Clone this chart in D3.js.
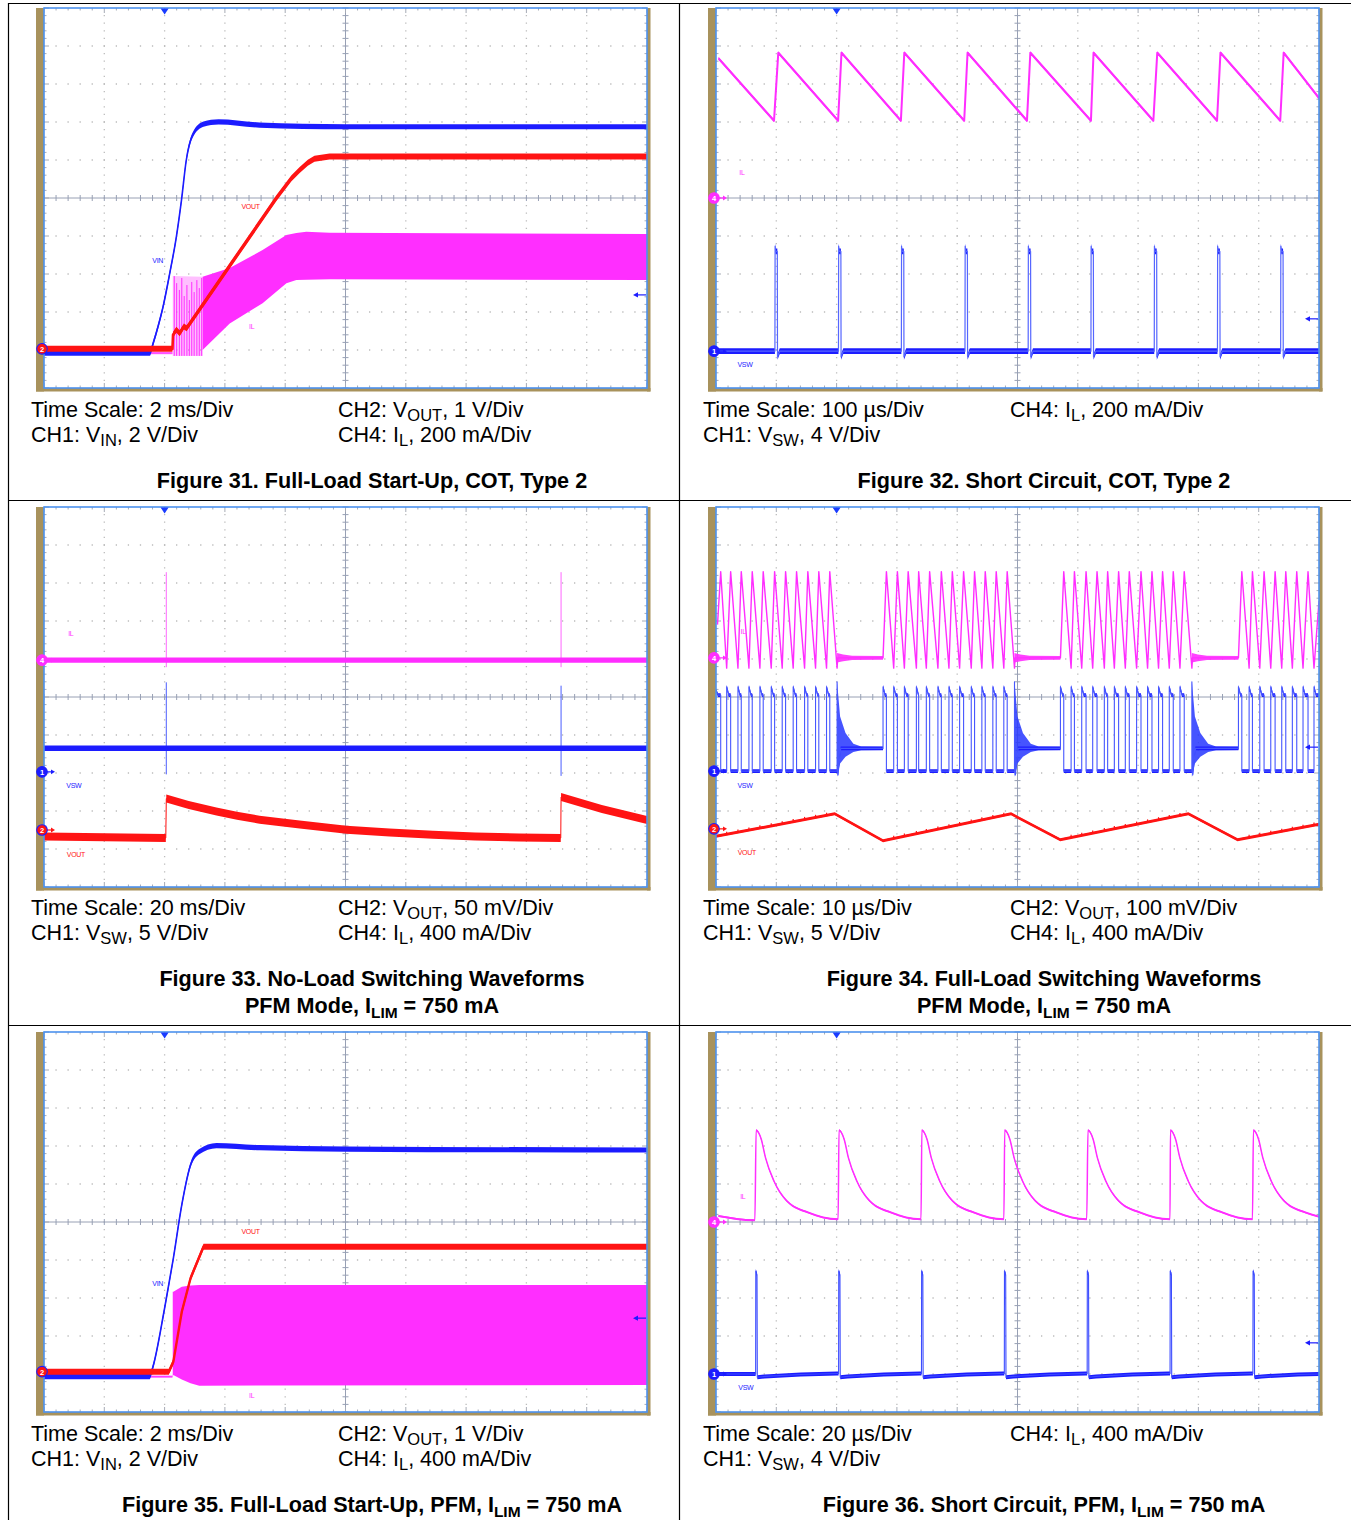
<!DOCTYPE html>
<html>
<head>
<meta charset="utf-8">
<script src="https://cdn.jsdelivr.net/npm/d3@7"></script>
<style>
  body { margin: 0; background: #fff; }
  svg text { font-family: "Liberation Sans", Arial, sans-serif; }
</style>
</head>
<body>
<svg id="chart" width="1351" height="1520"></svg>
<script>
// ---- Figure 31: full-load start-up, COT (t in ms) ----
const f31Vin = [[0,0],[3.51,0],[3.62,0.51],[3.78,1.38],[3.95,2.44],[4.17,4.19],[4.39,6.12],[4.56,8.05],[4.72,10.16],[4.93,11.47],[5.29,12.05],[5.79,12.17],[7.15,12.0],[10.03,11.91],[20,11.91]];
const f31Vout = [[0,0],[4.26,0],[4.28,0.37],[4.39,0.50],[4.50,0.41],[4.64,0.59],[4.73,0.54],[7.71,3.97],[8.20,4.48],[8.48,4.71],[8.75,4.90],[8.97,5.0],[9.47,5.06],[20,5.06]];
const f31IlIdle = [[3.51,0],[4.26,0]];
const f31IlBurst = [[4.27,-15,405],[5.26,-15,402]];
const f31IlSpikes = [[4.32,405],[4.40,368],[4.49,332],[4.57,395],[4.65,300],[4.74,358],[4.82,279],[4.90,374],[4.98,321],[5.07,384],[5.15,342],[5.23,395]];
const f31IlBand = [[5.26,16,402],[6.16,156,447],[7.25,262,542],[8.04,367,621],[8.37,384,632],[8.70,386,638],[9.47,388,633],[20,384,626]];

// ---- Figure 32: short circuit, COT (t in us) ----
const f32Il = [[4.1,735],[96.2,407],[103.3,765],[202.5,407],[208.1,765],[306.6,407],[312.3,765],[411.6,407],[417.2,765],[515.7,407],[521.3,765],[621.8,407],[626.1,765],[725.3,407],[731.8,765],[830.9,407],[836.6,765],[935.7,407],[941.4,765],[1000,526]];
const f32SwPulses = [97.7,203.1,307.4,412.9,517.7,621.8,726.8,831.6,936.4];
const f32SwTop = 11.05, f32SwHigh = 10.5, f32SwWidth = 4, f32SwUnder = -0.6;

// ---- Figure 33: no-load switching (t in ms) ----
const f33Il = [[0,0],[200,0]];
const f33IlSpikes = [[40.56,-74,926],[171.5,-74,926]];
const f33Vsw = [[0,3.11],[200,3.11]];
const f33SwSpikes = [[40.56,-0.33,11.78],[171.5,-0.53,11.34]];
const f33Vout = [[0,-8.6],[40.4,-10.5],[40.56,41.3],[48,32.9],[57.2,24.5],[64,18.6],[71.5,13.6],[84.8,7.2],[100.3,0.3],[114.6,-3.3],[129.0,-6.3],[143.0,-8.6],[157.6,-9.9],[171.4,-10.5],[171.5,43.4],[185,27.5],[200,13.2]];

// ---- Figure 34: full-load switching, PFM (t in us) ----
const f34BurstStarts = [0, 27.70, 57.12, 86.64];
const f34IlPeaks = [
  [0.78,2.43,4.19,6.01,7.83,9.72,11.54,13.36,15.23,17.05,18.87],
  [28.26,30.08,31.87,33.61,35.43,37.37,39.19,41.06,42.88,44.65,46.47,48.29],
  [57.67,59.44,61.37,63.19,64.95,66.77,68.54,70.48,72.30,74.06,75.83,77.65],
  [87.20,88.96,90.89,92.72,94.49,96.31,98.18]
];
const f34IlTroughs = [
  [1.77,3.64,5.46,7.28,9.16,10.98,12.80,14.69,16.51,18.33,20.08],
  [29.47,31.24,33.23,34.88,36.80,38.63,40.40,42.33,44.09,45.91,47.73,49.50],
  [58.89,60.65,62.47,64.40,66.06,67.88,69.75,71.57,73.39,75.17,76.94,78.92],
  [88.41,90.18,92.00,93.82,95.58,97.35,99.17]
];
const f34IlPeak = 908, f34IlValley = -108, f34IlIdle = 0;
const f34IlStart = [0.25, 350], f34IlEnd = [100, 600];
const f34IlFuzz = [[0,50],[1,35],[2.5,22],[8,20]];
const f34SwHigh = 10.0, f34SwHook = 11.1, f34SwLow = 0, f34SwIdle = 2.99, f34SwSpike = 11.75;
const f34SwRing = [[0,-0.75,11.75],[0.5,1.0,7.2],[1.4,1.9,5.0],[2.7,2.5,3.6],[4,2.75,3.25]];
const f34Vout = [[0,-19.7],[19.69,39.5],[27.70,-31.1],[48.94,39.5],[57.09,-28.4],[78.34,39.5],[86.49,-28.4],[100,12]];
const f34VoutRipple = 7;

// ---- Figure 35: full-load start-up, PFM (t in ms) ----
const f35Vin = [[0,0],[3.50,0],[3.60,0.44],[4.00,3.60],[4.29,6.23],[4.57,9.04],[4.86,11.14],[5.15,11.84],[5.72,12.16],[7.16,12.05],[10.03,11.98],[20,11.93]];
const f35Vout = [[0,0],[4.14,0],[4.29,0.26],[4.57,1.58],[4.86,2.46],[5.29,3.29],[20,3.29]];
const f35IlIdle = [[3.50,0],[4.26,0]];
const f35IlBand = [[4.27,0,895],[4.29,18,895],[4.57,-30,947],[4.86,-69,960],[5.15,-95,965],[20,-87,965]];

// ---- Figure 36: short circuit, PFM (t in us) ----
const f36IlLead = [[0.8,63],[12.9,18]];
const f36IlPeaks = [13.31,40.80,68.28,95.76,123.38,150.73,178.25];
const f36IlDecay = [[0,965],[1.7,870],[3.1,678],[5.9,432],[10.2,221],[17.3,99],[27.2,28]];
const f36SwPulses = [13.15,40.66,68.15,95.63,123.11,150.60,178.08];
const f36SwHigh = 10.84;
const f36SwRecover = [[0.55,-0.35],[3,-0.25],[15,-0.05],[27,0.05]];

// scope settings: ground offset (div from centre), units per div, whether the marker is visible
const f31Chans = [{ch:4,gnd:-4.08,perDiv:200,shown:false},{ch:1,gnd:-4.08,perDiv:2,shown:false},{ch:2,gnd:-3.97,perDiv:1,shown:true}];
const f32Chans = [{ch:4,gnd:0,perDiv:200,shown:true},{ch:1,gnd:-4.03,perDiv:4,shown:true}];
const f33Chans = [{ch:4,gnd:0.97,perDiv:400,shown:true},{ch:1,gnd:-1.97,perDiv:5,shown:true},{ch:2,gnd:-3.5,perDiv:50,shown:true}];
const f34Chans = [{ch:4,gnd:1.03,perDiv:400,shown:true},{ch:1,gnd:-1.95,perDiv:5,shown:true},{ch:2,gnd:-3.47,perDiv:100,shown:true}];
const f35Chans = [{ch:4,gnd:-4.07,perDiv:400,shown:false},{ch:1,gnd:-4.07,perDiv:2,shown:false},{ch:2,gnd:-3.94,perDiv:1,shown:true}];
const f36Chans = [{ch:4,gnd:0,perDiv:400,shown:true},{ch:1,gnd:-4.0,perDiv:4,shown:true}];
const timePerDiv = [2, 100, 20, 10, 2, 20];
const trigLevels = [-2.55, -3.18, null, -1.32, -2.53, -3.18];

// trace labels: [text, channel, t, value]
const f31Labels = [["VIN",1,3.77,4.89],["VOUT",2,6.85,3.74],["IL",4,6.89,142]];
const f32Labels = [["IL",4,43,132],["VSW",1,48,-1.37]];
const f33Labels = [["IL",4,8.9,284],["VSW",1,9.9,-1.84],["VOUT",2,10.6,-31.6]];
const f34Labels = [["IL",4,4.5,274],["VSW",1,4.8,-1.84],["VOUT",2,5.1,-63]];
const f35Labels = [["VIN",1,3.77,4.88],["VOUT",2,6.85,3.70],["IL",4,6.89,-203]];
const f36Labels = [["IL",4,8.9,271],["VSW",1,9.9,-1.37]];

// caption texts
const f31Notes = [["Time Scale: 2 ms/Div","CH1: V_{IN}, 2 V/Div"],["CH2: V_{OUT}, 1 V/Div","CH4: I_{L}, 200 mA/Div"]];
const f32Notes = [["Time Scale: 100 µs/Div","CH1: V_{SW}, 4 V/Div"],["CH4: I_{L}, 200 mA/Div"]];
const f33Notes = [["Time Scale: 20 ms/Div","CH1: V_{SW}, 5 V/Div"],["CH2: V_{OUT}, 50 mV/Div","CH4: I_{L}, 400 mA/Div"]];
const f34Notes = [["Time Scale: 10 µs/Div","CH1: V_{SW}, 5 V/Div"],["CH2: V_{OUT}, 100 mV/Div","CH4: I_{L}, 400 mA/Div"]];
const f35Notes = [["Time Scale: 2 ms/Div","CH1: V_{IN}, 2 V/Div"],["CH2: V_{OUT}, 1 V/Div","CH4: I_{L}, 400 mA/Div"]];
const f36Notes = [["Time Scale: 20 µs/Div","CH1: V_{SW}, 4 V/Div"],["CH4: I_{L}, 400 mA/Div"]];
const f31Title = ["Figure 31. Full-Load Start-Up, COT, Type 2"];
const f32Title = ["Figure 32. Short Circuit, COT, Type 2"];
const f33Title = ["Figure 33. No-Load Switching Waveforms","PFM Mode, I_{LIM} = 750 mA"];
const f34Title = ["Figure 34. Full-Load Switching Waveforms","PFM Mode, I_{LIM} = 750 mA"];
const f35Title = ["Figure 35. Full-Load Start-Up, PFM, I_{LIM} = 750 mA"];
const f36Title = ["Figure 36. Short Circuit, PFM, I_{LIM} = 750 mA"];

// ---------------- layout & style ----------------
const svg = d3.select("#chart");
const W = 603, H = 380;
const panels = [{x0:44,y0:8},{x0:716,y0:8},{x0:44,y0:507},{x0:716,y0:507},{x0:44,y0:1032},{x0:716,y0:1032}];
const BLUE = "#1c1cff", RED = "#ff1414", MAG = "#ff2eff";
const chColor = {1: BLUE, 2: RED, 4: MAG};
const OLIVE = "#a8925c", FRAME = "#4d92ee", DOT = "#bcbcbc", CROSS = "#98a0b4", TICK = "#a6abb6";
const defs = svg.append("defs");

// table rules
[3.5, 500.5, 1025.5].forEach(y => svg.append("line").attr("x1", 8).attr("x2", 1351).attr("y1", y).attr("y2", y).attr("stroke", "#000").attr("stroke-width", 1.2));
[8.5, 679.5].forEach(x => svg.append("line").attr("x1", x).attr("x2", x).attr("y1", 3).attr("y2", 1520).attr("stroke", "#000").attr("stroke-width", 1.2));

function makeScreen(idx, chans) {
  const { x0, y0 } = panels[idx];
  const tdiv = timePerDiv[idx];
  const g = svg.append("g");
  const xs = d3.scaleLinear().domain([0, 10 * tdiv]).range([x0, x0 + W]);
  const gy = d3.scaleLinear().domain([-5, 5]).range([y0 + H, y0]);
  const ys = {};
  chans.forEach(c => {
    ys[c.ch] = d3.scaleLinear().domain([(-5 - c.gnd) * c.perDiv, (5 - c.gnd) * c.perDiv]).range([y0 + H, y0]);
  });

  // bezel
  g.append("rect").attr("x", x0 - 8).attr("y", y0).attr("width", 8).attr("height", H + 3.5).attr("fill", OLIVE);
  g.append("rect").attr("x", x0 - 8).attr("y", y0 + H).attr("width", W + 11.5).attr("height", 3.5).attr("fill", OLIVE);
  g.append("rect").attr("x", x0 + W).attr("y", y0).attr("width", 3.5).attr("height", H + 3.5).attr("fill", OLIVE);
  g.append("rect").attr("x", x0).attr("y", y0).attr("width", W).attr("height", H).attr("fill", "#fff");

  // dotted grid
  const divs = d3.range(1, 10).filter(i => i !== 5);
  g.selectAll(null).data(divs).join("line")
    .attr("x1", i => xs(i * tdiv)).attr("x2", i => xs(i * tdiv))
    .attr("y1", y0).attr("y2", y0 + H)
    .attr("stroke", DOT).attr("stroke-width", 1.3)
    .attr("stroke-dasharray", `1.3 ${H / 50 - 1.3}`).attr("stroke-dashoffset", 0.65);
  g.selectAll(null).data(divs).join("line")
    .attr("x1", x0).attr("x2", x0 + W)
    .attr("y1", i => gy(i - 5)).attr("y2", i => gy(i - 5))
    .attr("stroke", DOT).attr("stroke-width", 1.3)
    .attr("stroke-dasharray", `1.3 ${W / 50 - 1.3}`).attr("stroke-dashoffset", 0.65);

  // centre cross with minor ticks
  g.append("line").attr("x1", xs(5 * tdiv)).attr("x2", xs(5 * tdiv)).attr("y1", y0).attr("y2", y0 + H).attr("stroke", CROSS).attr("stroke-width", 1);
  g.append("line").attr("x1", x0).attr("x2", x0 + W).attr("y1", gy(0)).attr("y2", gy(0)).attr("stroke", CROSS).attr("stroke-width", 1);
  const minor = d3.range(0, 51);
  const tickLen = k => (k % 5 === 0 ? 5 : 2.5);
  g.selectAll(null).data(minor).join("line")
    .attr("x1", k => xs(k * tdiv / 5)).attr("x2", k => xs(k * tdiv / 5))
    .attr("y1", gy(0) - 3).attr("y2", gy(0) + 3).attr("stroke", CROSS).attr("stroke-width", 1);
  g.selectAll(null).data(minor).join("line")
    .attr("y1", k => gy(k / 5 - 5)).attr("y2", k => gy(k / 5 - 5))
    .attr("x1", xs(5 * tdiv) - 3).attr("x2", xs(5 * tdiv) + 3).attr("stroke", CROSS).attr("stroke-width", 1);
  // edge ticks
  g.selectAll(null).data(minor).join("line")
    .attr("x1", k => xs(k * tdiv / 5)).attr("x2", k => xs(k * tdiv / 5))
    .attr("y1", y0).attr("y2", k => y0 + tickLen(k)).attr("stroke", TICK);
  g.selectAll(null).data(minor).join("line")
    .attr("x1", k => xs(k * tdiv / 5)).attr("x2", k => xs(k * tdiv / 5))
    .attr("y1", y0 + H).attr("y2", k => y0 + H - tickLen(k)).attr("stroke", TICK);
  g.selectAll(null).data(minor).join("line")
    .attr("y1", k => gy(k / 5 - 5)).attr("y2", k => gy(k / 5 - 5))
    .attr("x1", x0).attr("x2", k => x0 + tickLen(k)).attr("stroke", TICK);
  g.selectAll(null).data(minor).join("line")
    .attr("y1", k => gy(k / 5 - 5)).attr("y2", k => gy(k / 5 - 5))
    .attr("x1", x0 + W).attr("x2", k => x0 + W - tickLen(k)).attr("stroke", TICK);

  defs.append("clipPath").attr("id", "clip" + idx)
    .append("rect").attr("x", x0).attr("y", y0).attr("width", W).attr("height", H);
  const labels = g.append("g");
  const traces = g.append("g").attr("clip-path", `url(#clip${idx})`);
  const over = g.append("g");
  return { idx, x0, y0, tdiv, g, xs, ys, gy, labels, traces, over, chans };
}

function trace(s, ch, pts, st) {
  const y = s.ys[ch];
  const curve = st.curve || d3.curveLinear;
  if (st.h > 0) {
    s.traces.append("path").datum(pts)
      .attr("d", d3.area().curve(curve).x(d => s.xs(d[0])).y0(d => y(d[1]) + st.h).y1(d => y(d[1]) - st.h))
      .attr("fill", st.band || chColor[ch]).attr("opacity", st.bandOpacity ?? 1);
  }
  s.traces.append("path").datum(pts)
    .attr("d", d3.line().curve(curve).x(d => s.xs(d[0])).y(d => y(d[1])))
    .attr("fill", "none").attr("stroke", st.color || chColor[ch])
    .attr("stroke-width", st.w).attr("stroke-linejoin", "round");
}

function envelope(s, ch, pts, color, opacity) {
  const y = s.ys[ch];
  s.traces.append("path").datum(pts)
    .attr("d", d3.area().x(d => s.xs(d[0])).y0(d => y(d[1])).y1(d => y(d[2])))
    .attr("fill", color).attr("opacity", opacity);
}

function spikes(s, ch, pts, color, width) {
  const y = s.ys[ch];
  s.traces.selectAll(null).data(pts).join("line")
    .attr("x1", d => s.xs(d[0])).attr("x2", d => s.xs(d[0]))
    .attr("y1", d => y(d[1])).attr("y2", d => y(d[2]))
    .attr("stroke", color).attr("stroke-width", width);
}

function finishScreen(s, labelRows) {
  const { x0, y0, xs, gy, over } = s;
  labelRows.forEach(([txt, ch, t, v]) => {
    s.labels.append("text").attr("x", xs(t)).attr("y", s.ys[ch](v))
      .attr("dominant-baseline", "central").attr("text-anchor", "middle")
      .attr("font-size", 7).attr("letter-spacing", -0.3).attr("fill", chColor[ch]).text(txt);
  });
  // frame
  over.append("rect").attr("x", x0).attr("y", y0).attr("width", W).attr("height", H)
    .attr("fill", "none").attr("stroke", FRAME).attr("stroke-width", 1.6);
  // trigger position
  const xc = xs(2 * s.tdiv);
  over.append("path").attr("d", `M${xc - 4},${y0 + 0.5}L${xc + 4},${y0 + 0.5}L${xc},${y0 + 6.5}Z`).attr("fill", "#1a3cff");
  // trigger level
  const lvl = trigLevels[s.idx];
  if (lvl !== null) {
    const yl = gy(lvl), xr = x0 + W;
    over.append("line").attr("x1", xr - 11).attr("x2", xr - 1).attr("y1", yl).attr("y2", yl).attr("stroke", BLUE).attr("stroke-width", 1.2);
    over.append("path").attr("d", `M${xr - 14},${yl}L${xr - 9},${yl - 2.6}L${xr - 9},${yl + 2.6}Z`).attr("fill", BLUE);
  }
  // channel ground markers (hidden ones sit under the top marker)
  s.chans.filter(c => c.shown).forEach(c => {
    const ym = gy(c.gnd), col = chColor[c.ch], xm = x0 - 2;
    over.append("line").attr("x1", xm + 4).attr("x2", xm + 10).attr("y1", ym).attr("y2", ym).attr("stroke", col).attr("stroke-width", 1.2);
    over.append("path").attr("d", `M${xm + 13},${ym}L${xm + 9},${ym - 2.4}L${xm + 9},${ym + 2.4}Z`).attr("fill", col);
    over.append("circle").attr("cx", xm).attr("cy", ym).attr("r", 5.3)
      .attr("fill", col).attr("stroke", c.ch === 2 ? BLUE : col).attr("stroke-width", 1.1);
    over.append("text").attr("x", xm).attr("y", ym + 0.3).attr("text-anchor", "middle").attr("dominant-baseline", "central")
      .attr("font-size", 7.5).attr("font-weight", "bold").attr("fill", "#fff").text(c.ch);
  });
}

function richText(str, x, y, size, bold, anchor, subSize, subShift) {
  const t = svg.append("text").attr("x", x).attr("y", y)
    .attr("font-size", size).attr("font-weight", bold ? "bold" : "normal")
    .attr("text-anchor", anchor).attr("fill", "#000");
  let shifted = false;
  str.split(/(_\{[^}]*\})/).filter(p => p.length).forEach(p => {
    if (p.startsWith("_{")) {
      t.append("tspan").attr("font-size", subSize).attr("dy", subShift).text(p.slice(2, -1));
      shifted = true;
    } else {
      t.append("tspan").attr("dy", shifted ? -subShift : 0).text(p);
      shifted = false;
    }
  });
}

const noteX = [[31, 338], [703, 1010]];
const noteY = [[416.5, 441.5], [914.5, 939.5], [1441, 1466]];
const titleX = [372, 1044];
const titleY = [[487.5], [985.5, 1012.5], [1512]];
function captions(idx, notes, title) {
  const col = idx % 2, row = Math.floor(idx / 2);
  notes.forEach((lines, k) => lines.forEach((ln, j) =>
    richText(ln, noteX[col][k], noteY[row][j], 21.5, false, "start", 16.5, 4)));
  title.forEach((ln, j) => richText(ln, titleX[col], titleY[row][j], 21.6, true, "middle", 15.5, 5));
}

// ---------------- Figure 31 ----------------
{
  const s = makeScreen(0, f31Chans);
  envelope(s, 4, f31IlBurst, MAG, 0.3);
  spikes(s, 4, f31IlSpikes.map(d => [d[0], -15, d[1]]), MAG, 1);
  trace(s, 4, f31IlIdle, { h: 1.2, w: 1, bandOpacity: 0.6 });
  envelope(s, 4, f31IlBand, MAG, 1);
  trace(s, 1, f31Vin, { h: 2.6, w: 1.6, curve: d3.curveMonotoneX });
  trace(s, 2, f31Vout, { h: 3, w: 2.6 });
  finishScreen(s, f31Labels);
  captions(0, f31Notes, f31Title);
}

// ---------------- Figure 32 ----------------
{
  const s = makeScreen(1, f32Chans);
  trace(s, 4, f32Il, { h: 1.5, w: 2 });
  const sw = [[0, 0]];
  f32SwPulses.forEach(p => sw.push([p, 0], [p + 0.3, f32SwTop], [p + 1.2, f32SwHigh], [p + f32SwWidth, f32SwHigh],
    [p + f32SwWidth + 0.3, f32SwUnder], [p + f32SwWidth + 4, 0]));
  sw.push([1000, 0]);
  trace(s, 1, sw, { h: 2.8, w: 1.2, color: "#5566ff", band: BLUE });
  finishScreen(s, f32Labels);
  captions(1, f32Notes, f32Title);
}

// ---------------- Figure 33 ----------------
{
  const s = makeScreen(2, f33Chans);
  spikes(s, 4, f33IlSpikes, "#ff66ff", 1);
  trace(s, 4, f33Il, { h: 2.6, w: 1 });
  spikes(s, 1, f33SwSpikes, "#4a5cff", 1);
  trace(s, 1, f33Vsw, { h: 2.8, w: 1 });
  trace(s, 2, f33Vout, { h: 4, w: 1 });
  finishScreen(s, f33Labels);
  captions(2, f33Notes, f33Title);
}

// ---------------- Figure 34 ----------------
{
  const s = makeScreen(3, f34Chans);
  const last = f34BurstStarts.length - 1;
  // inductor current
  const il = [f34IlStart];
  const fuzz = [];
  f34BurstStarts.forEach((st, b) => {
    if (b > 0) il.push([st, f34IlIdle]);
    f34IlPeaks[b].forEach((p, i) => il.push([p, f34IlPeak], [f34IlTroughs[b][i], f34IlValley]));
    if (b < last) {
      const e = f34IlTroughs[b][f34IlTroughs[b].length - 1], nx = f34BurstStarts[b + 1];
      il.push([e + 0.1, f34IlIdle]);
      const env = f34IlFuzz.filter(d => e + d[0] < nx).map(d => [e + d[0], f34IlIdle - d[1], f34IlIdle + d[1]]);
      env.push([nx, f34IlIdle - f34IlFuzz[f34IlFuzz.length - 1][1], f34IlIdle + f34IlFuzz[f34IlFuzz.length - 1][1]]);
      fuzz.push(env);
    } else il.push(f34IlEnd);
  });
  fuzz.forEach(env => envelope(s, 4, env, MAG, 0.9));
  trace(s, 4, il, { h: 0, w: 1.4 });
  // switch node
  const sw = [];
  const rings = [];
  f34BurstStarts.forEach((st, b) => {
    if (b === 0) sw.push([0, f34SwHook - 0.5]);
    else sw.push([st, f34SwIdle], [st, f34SwHook]);
    sw.push([st + 0.35, f34SwHigh]);
    const pk = f34IlPeaks[b], tr = f34IlTroughs[b];
    pk.forEach((p, i) => {
      sw.push([p, f34SwHigh], [p, f34SwLow]);
      if (i < pk.length - 1 || b === last) {
        sw.push([tr[i], f34SwLow], [tr[i], f34SwHook], [tr[i] + 0.35, f34SwHigh]);
      } else {
        const e = tr[i];
        sw.push([e, f34SwLow], [e, f34SwSpike], [e + 0.15, -0.5], [e + 0.6, f34SwIdle]);
        const nx = f34BurstStarts[b + 1];
        const env = f34SwRing.map(d => [e + d[0], d[1], d[2]]);
        env.push([nx, f34SwIdle - 0.22, f34SwIdle + 0.22]);
        rings.push(env);
      }
    });
  });
  sw.push([100, f34SwHigh]);
  rings.forEach(env => envelope(s, 1, env, "#2636ff", 0.85));
  trace(s, 1, sw, { h: 1.9, w: 1.1, color: "#4656ff", band: BLUE });
  trace(s, 2, f34Vout, { h: 1.5, w: 1.8 });
  // small output ripple steps at each switching pulse inside a burst
  const vy = s.ys[2], vout = d3.scaleLinear().domain(f34Vout.map(d => d[0])).range(f34Vout.map(d => d[1]));
  const ticks = f34IlTroughs.flatMap((tr, b) => tr.slice(0, b === last ? tr.length : tr.length - 1));
  s.traces.selectAll(null).data(ticks).join("line")
    .attr("x1", t => s.xs(t)).attr("x2", t => s.xs(t))
    .attr("y1", t => vy(vout(t))).attr("y2", t => vy(vout(t) + f34VoutRipple))
    .attr("stroke", RED).attr("stroke-width", 1.2);
  finishScreen(s, f34Labels);
  captions(3, f34Notes, f34Title);
}

// ---------------- Figure 35 ----------------
{
  const s = makeScreen(4, f35Chans);
  trace(s, 4, f35IlIdle, { h: 1.2, w: 1, bandOpacity: 0.6 });
  envelope(s, 4, f35IlBand, MAG, 1);
  trace(s, 1, f35Vin, { h: 2.6, w: 1.6, curve: d3.curveMonotoneX });
  trace(s, 2, f35Vout, { h: 3, w: 2.4 });
  finishScreen(s, f35Labels);
  captions(4, f35Notes, f35Title);
}

// ---------------- Figure 36 ----------------
{
  const s = makeScreen(5, f36Chans);
  const il = [...f36IlLead];
  f36IlPeaks.forEach((p, i) => {
    const nx = i < f36IlPeaks.length - 1 ? f36IlPeaks[i + 1] : 10 * timePerDiv[5] + 30;
    f36IlDecay.forEach(([dt, v]) => { if (p + dt < nx) il.push([p + dt, v]); });
  });
  trace(s, 4, il, { h: 1, w: 1.5, curve: d3.curveMonotoneX });
  const sw = [[0, 0]];
  f36SwPulses.forEach((p, i) => {
    const nx = i < f36SwPulses.length - 1 ? f36SwPulses[i + 1] : 10 * timePerDiv[5] + 30;
    sw.push([p, sw[sw.length - 1][1]], [p + 0.05, f36SwHigh], [p + 0.45, f36SwHigh - 0.4], [p + f36SwRecover[0][0], f36SwRecover[0][1]]);
    f36SwRecover.slice(1).forEach(([dt, v]) => { if (p + dt < nx) sw.push([p + dt, v]); });
  });
  trace(s, 1, sw, { h: 2, w: 1.1, color: "#3c4cff", band: BLUE });
  finishScreen(s, f36Labels);
  captions(5, f36Notes, f36Title);
}
</script>
</body>
</html>
